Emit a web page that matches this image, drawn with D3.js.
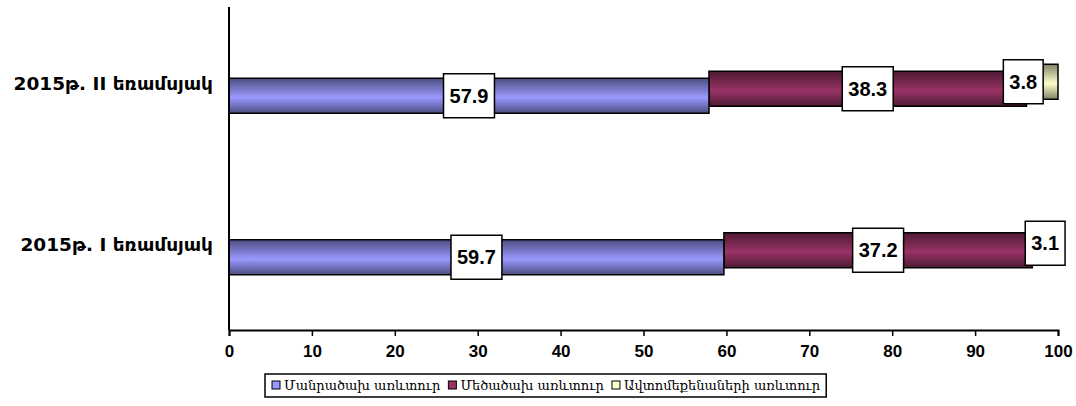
<!DOCTYPE html>
<html>
<head>
<meta charset="utf-8">
<script src="https://cdn.jsdelivr.net/npm/d3@7"></script>
<style>
  body { margin: 0; background: #fff; }
  svg { display: block; }
</style>
</head>
<body>
<div id="chart"></div>
<script>
// data
var categories = ["2015թ. II եռամսյակ", "2015թ. I եռամսյակ"]; // top to bottom
var retail = [57.9, 59.7];
var wholesale = [38.3, 37.2];
var cars = [3.8, 3.1];
var seriesNames = ["Մանրածախ առևտուր", "Մեծածախ առևտուր", "Ավտոմեքենաների առևտուր"];
var xTicks = [0, 10, 20, 30, 40, 50, 60, 70, 80, 90, 100];

var W = 1076, H = 406;
var margin = { top: 7, left: 229, right: 18, bottom: 76 };
var width = W - margin.left - margin.right,
    height = H - margin.top - margin.bottom;

var series = [
    { key: "retail", values: retail, light: "#9999ff", dark: "#4d4d80", shift: 8 },
    { key: "wholesale", values: wholesale, light: "#993366", dark: "#4d1a33", shift: 1 },
    { key: "cars", values: cars, light: "#ffffcc", dark: "#808066", shift: -6 }
];

var svg = d3.select("#chart").append("svg")
    .attr("width", W).attr("height", H);

var defs = svg.append("defs");
series.forEach(function (s) {
    var g = defs.append("linearGradient")
        .attr("id", "grad-" + s.key)
        .attr("x1", 0).attr("y1", 0).attr("x2", 0).attr("y2", 1);
    g.append("stop").attr("offset", "0%").attr("stop-color", s.dark);
    g.append("stop").attr("offset", "55%").attr("stop-color", s.light);
    g.append("stop").attr("offset", "100%").attr("stop-color", s.dark);
});

var g = svg.append("g")
    .attr("transform", "translate(" + margin.left + "," + margin.top + ")");

var x = d3.scaleLinear().domain([0, 100]).range([0, width]);
var y = d3.scaleBand().domain(categories).range([0, height]);
var barH = 35;

// stacked segments
var rows = categories.map(function (c, i) {
    var acc = 0;
    return series.map(function (s) {
        var seg = { cat: c, key: s.key, s: s, v: s.values[i], x0: acc };
        acc += s.values[i];
        seg.x1 = acc;
        return seg;
    });
});
var segs = [].concat.apply([], rows);

// back series first so the front one overlaps (Excel depth look)
var drawOrder = ["cars", "wholesale", "retail"];
drawOrder.forEach(function (k) {
    g.selectAll(".bar-" + k)
        .data(segs.filter(function (d) { return d.key == k; }))
        .enter().append("rect")
        .attr("x", function (d) { return x(d.x0); })
        .attr("y", function (d) { return y(d.cat) + y.bandwidth() / 2 - barH / 2 + d.s.shift; })
        .attr("width", function (d) { return x(d.x1) - x(d.x0); })
        .attr("height", barH)
        .attr("fill", "url(#grad-" + k + ")")
        .attr("stroke", "#000")
        .attr("stroke-width", 1.5);
});

// axes
g.append("line")
    .attr("x1", 0).attr("x2", 0).attr("y1", 0).attr("y2", height)
    .attr("stroke", "#000").attr("stroke-width", 2);

var xAxis = g.append("g")
    .attr("transform", "translate(0," + height + ")")
    .attr("font-size", 17)
    .attr("font-family", "Arial, 'Liberation Sans', sans-serif")
    .call(d3.axisBottom(x).tickValues(xTicks).tickSize(6).tickPadding(9));
xAxis.attr("font-size", 17).attr("font-family", "Arial, 'Liberation Sans', sans-serif");
xAxis.select(".domain").attr("stroke-width", 2);
xAxis.selectAll(".tick line").attr("stroke-width", 1.5);
xAxis.selectAll("text")
    .attr("font-weight", "bold")
    .attr("font-size", 17)
    .attr("fill", "#000");

// category labels
g.selectAll(".cat")
    .data(categories)
    .enter().append("text")
    .attr("x", -16)
    .attr("y", function (d) { return y(d) + y.bandwidth() / 2 - 3; })
    .attr("text-anchor", "end")
    .attr("dominant-baseline", "middle")
    .style("font-family", "'DejaVu Sans', sans-serif")
    .style("font-weight", "bold")
    .style("font-size", "18.5px")
    .text(function (d) { return d; });

// value labels in white boxes
var labelNudge = { "2015թ. II եռամսյակ|cars": -19 };
var lab = g.selectAll(".lab")
    .data(segs)
    .enter().append("g")
    .attr("transform", function (d) {
        var cx = x((d.x0 + d.x1) / 2) + (labelNudge[d.cat + "|" + d.key] || 0);
        var cy = y(d.cat) + y.bandwidth() / 2 + d.s.shift;
        return "translate(" + cx + "," + cy + ")";
    });
lab.append("rect").attr("class", "box");
lab.append("text")
    .attr("text-anchor", "middle")
    .attr("dy", "0.36em")
    .style("font-family", "Arial, 'Liberation Sans', sans-serif")
    .style("font-weight", "bold")
    .style("font-size", "20px")
    .text(function (d) { return d.v.toFixed(1); });
lab.each(function () {
    var t = d3.select(this).select("text").node().getComputedTextLength();
    d3.select(this).select("rect")
        .attr("x", -t / 2 - 6).attr("y", -22)
        .attr("width", t + 12).attr("height", 44)
        .attr("fill", "#fff").attr("stroke", "#000").attr("stroke-width", 1.5);
});

// legend
var legend = svg.append("g").attr("transform", "translate(265,374)");
var legBox = legend.append("rect")
    .attr("height", 23).attr("fill", "#fff")
    .attr("stroke", "#000").attr("stroke-width", 1.5);
var lx = 7;
series.forEach(function (s, i) {
    legend.append("rect")
        .attr("x", lx).attr("y", 7).attr("width", 8).attr("height", 8)
        .attr("fill", s.light).attr("stroke", "#000").attr("stroke-width", 1);
    var t = legend.append("text")
        .attr("x", lx + 12).attr("y", 16)
        .style("font-family", "'DejaVu Serif', serif")
        .style("font-size", "13px")
        .text(seriesNames[i]);
    lx += 12 + t.node().getComputedTextLength() + 8;
});
legBox.attr("width", lx - 2);
</script>
</body>
</html>
